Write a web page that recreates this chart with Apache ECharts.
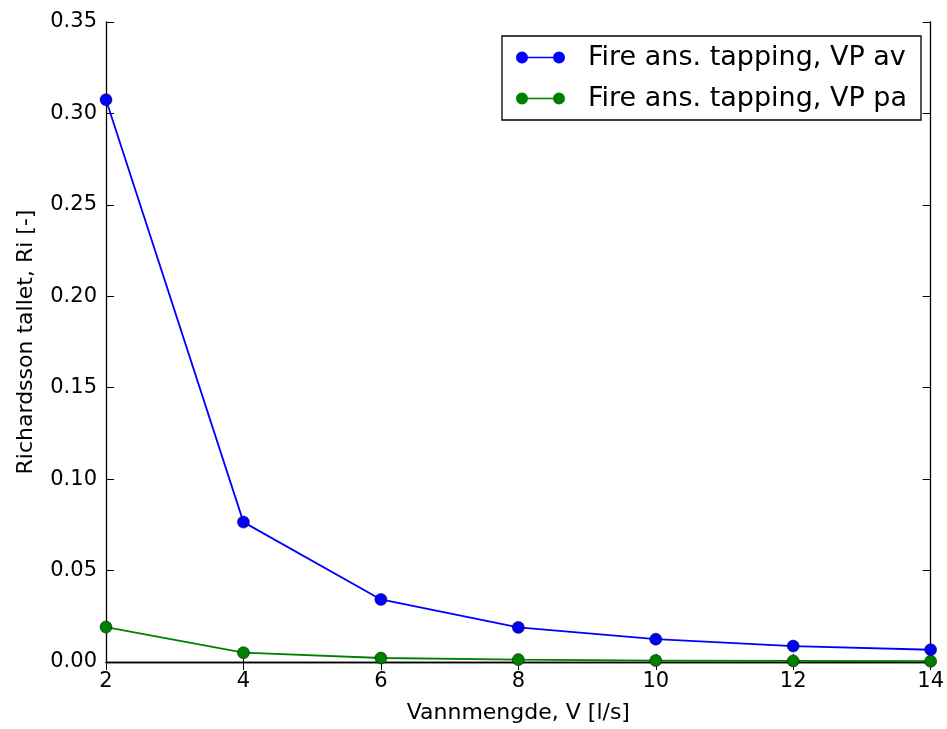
<!DOCTYPE html>
<html>
<head>
<meta charset="utf-8">
<script src="https://cdn.jsdelivr.net/npm/echarts@6/dist/echarts.min.js"></script>
<style>
  html, body { margin: 0; padding: 0; background: #fff; }
  #chart { width: 947px; height: 729px; }
</style>
</head>
<body>
<div id="chart"></div>
<script>
// vannmengde (l/s)
const flow = [2, 4, 6, 8, 10, 12, 14]
// Richardsson tallet
const riAv = [0.3075, 0.0765, 0.0342, 0.0189, 0.0125, 0.0087, 0.0067]
const riPa = [0.0191, 0.0051, 0.0022, 0.0013, 0.0008, 0.0006, 0.0004]
const seriesNames = ['Fire ans. tapping, VP av', 'Fire ans. tapping, VP pa']

const font = 'DejaVu Sans'
// two markers joined by a short line, like the matplotlib legend
const legendIcon = 'path://M0,6a6,6 0 1,1 12,0a6,6 0 1,1 -12,0Z' +
  'M37,6a6,6 0 1,1 12,0a6,6 0 1,1 -12,0Z M11,5.3L38,5.3L38,6.7L11,6.7Z'

function pairs(ys) {
  return flow.map((x, i) => [x, ys[i]])
}

let chart = echarts.init(document.getElementById('chart'))

const frameLine = { show: true, lineStyle: { color: '#000', width: 1.3 } }
const innerTick = { show: true, inside: true, length: 8, lineStyle: { color: '#000', width: 1 } }

let option = {
  animation: false,
  textStyle: { fontFamily: font },
  grid: { left: 106, right: 15, top: 22, bottom: 65 },
  legend: {
    orient: 'vertical',
    right: 26,
    top: 36,
    padding: [8, 14, 8, 14],
    itemGap: 14,
    itemWidth: 49,
    itemHeight: 12,
    borderColor: '#000',
    borderWidth: 1.3,
    icon: legendIcon,
    itemStyle: { borderWidth: 0 },
    textStyle: { fontSize: 27, lineHeight: 27, color: '#000', fontFamily: font, padding: [0, 0, 0, 18] },
    data: seriesNames
  },
  xAxis: [{
    type: 'value',
    min: 2,
    max: 14,
    interval: 2,
    name: 'Vannmengde, V [l/s]',
    nameLocation: 'middle',
    nameGap: 40,
    nameTextStyle: { fontSize: 22, color: '#000', fontFamily: font },
    axisLine: frameLine,
    axisTick: innerTick,
    axisLabel: { fontSize: 21, color: '#000', margin: 9 },
    splitLine: { show: false }
  }, {
    type: 'value',
    position: 'top',
    min: 2,
    max: 14,
    interval: 2,
    axisLine: frameLine,
    axisTick: innerTick,
    axisLabel: { show: false },
    splitLine: { show: false }
  }],
  yAxis: [{
    type: 'value',
    min: 0,
    max: 0.35,
    interval: 0.05,
    name: 'Richardsson tallet, Ri [-]',
    nameLocation: 'middle',
    nameGap: 69,
    nameTextStyle: { fontSize: 22, color: '#000', fontFamily: font },
    axisLine: frameLine,
    axisTick: innerTick,
    axisLabel: { fontSize: 21, color: '#000', margin: 9, formatter: v => v.toFixed(2) },
    splitLine: { show: false }
  }, {
    type: 'value',
    position: 'right',
    min: 0,
    max: 0.35,
    interval: 0.05,
    axisLine: frameLine,
    axisTick: innerTick,
    axisLabel: { show: false },
    splitLine: { show: false }
  }],
  series: [{
    name: seriesNames[0],
    type: 'line',
    symbol: 'circle',
    symbolSize: 12,
    lineStyle: { color: '#0000ff', width: 1.8 },
    itemStyle: { color: '#0000ff', borderColor: '#000', borderWidth: 0.5 },
    data: pairs(riAv)
  }, {
    name: seriesNames[1],
    type: 'line',
    symbol: 'circle',
    symbolSize: 12,
    lineStyle: { color: '#008000', width: 1.8 },
    itemStyle: { color: '#008000', borderColor: '#000', borderWidth: 0.5 },
    data: pairs(riPa)
  }]
}
chart.setOption(option)
</script>
</body>
</html>
